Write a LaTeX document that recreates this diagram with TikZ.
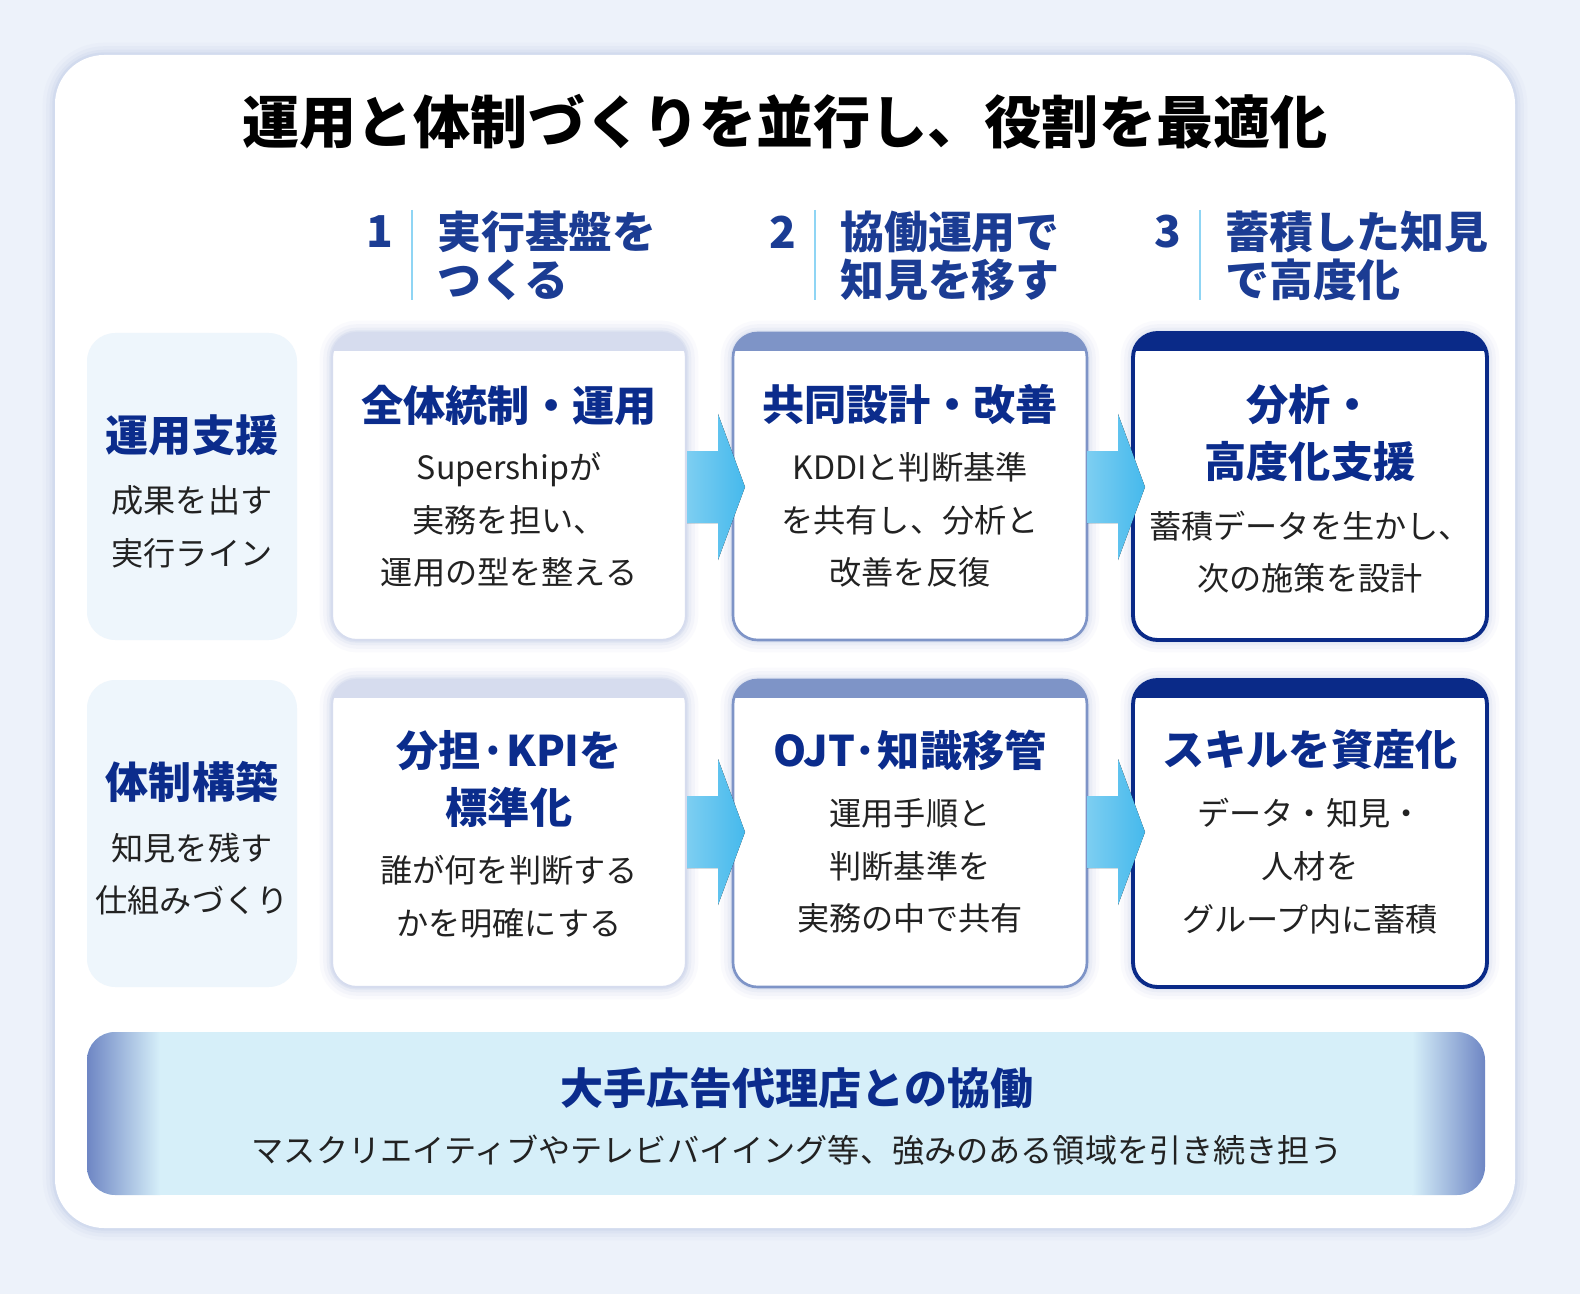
\documentclass[tikz,border=0pt]{standalone}
\usepackage{fontspec}
\setmainfont{Noto Sans CJK JP}
\definecolor{navy}{HTML}{0B2C8C}
\definecolor{hdblue}{HTML}{1B3C93}
\definecolor{bg}{HTML}{EDF2FA}
\definecolor{lab}{HTML}{EEF6FC}
\definecolor{s1}{HTML}{D6DCEE}
\definecolor{s2}{HTML}{7E94C7}
\definecolor{s3}{HTML}{0A2A88}
\definecolor{cy}{HTML}{45B9EC}
\definecolor{ban}{HTML}{D6EFF9}
\definecolor{banE}{HTML}{6E86C4}
\definecolor{txt}{HTML}{222222}
\definecolor{glow}{HTML}{9FB0DA}
\tikzset{
 px/.style={x=0.02cm,y=-0.02cm},
 title/.style={font=\bfseries\fontsize{32.5}{36}\selectfont,text=black},
 colhd/.style={font=\bfseries\fontsize{25}{28}\selectfont,text=hdblue,anchor=west,align=left},
 num/.style={font=\bfseries\fontsize{25}{28}\selectfont,text=hdblue},
 cardhd/.style={font=\bfseries\fontsize{24}{32.5}\selectfont,text=navy,align=center},
 body/.style={font=\fontsize{18.3}{30}\selectfont,text=txt,align=center},
 labhd/.style={font=\bfseries\fontsize{24.5}{28}\selectfont,text=navy},
}
\newcommand{\glowbox}[5]{% x1,y1,w,h,radius
 \foreach \w/\o in {14/0.05,10/0.07,6/0.1,3/0.15}{
  \draw[glow,line width=\w pt,opacity=\o,rounded corners=#5] (#1,#2) rectangle ++(#3,#4);}
}
\newcommand{\card}[3]{% x1,y1,col
 \glowbox{#1}{#2}{354}{307}{14pt}
 \fill[white,rounded corners=14pt] (#1,#2) rectangle ++(354,307);
 \begin{scope}
 \clip[rounded corners=14pt] (#1,#2) rectangle ++(354,307);
 \fill[#3] (#1,#2) rectangle ++(354,18);
 \end{scope}
}
\newcommand{\cardborder}[3]{\draw[#3,line width=#2,rounded corners=14pt] (#1) rectangle ++(354,307);}
\newcommand{\arr}[2]{\fill[left color=cy!70,right color=cy] (#1,#2-36) -- (#1+31,#2-36) -- (#1+31,#2-73) -- (#1+58,#2) -- (#1+31,#2+73) -- (#1+31,#2+36) -- (#1,#2+36) -- cycle;}
\begin{document}
\begin{tikzpicture}[px]
\useasboundingbox (0,0) rectangle (1580,1294);
\fill[bg] (0,0) rectangle (1580,1294);
\glowbox{55}{55}{1460}{1173}{28pt}
\fill[white,rounded corners=28pt] (55,55) rectangle (1515,1228);
\node[title] (t) at (785,122) {運用と体制づくりを並行し、役割を最適化};
% column headers
\foreach \n/\x/\a/\b in {1/380/実行基盤を/つくる,2/783/協働運用で/知見を移す,3/1168/蓄積した知見/で高度化}{
 \node[num] at (\x,232) {\n};
 \draw[cy!60,line width=1.2pt] (\x+32,210) -- (\x+32,300);
 \node[colhd] at (\x+51,232) {\a};
 \node[colhd] at (\x+51,280) {\b};
}
% row labels
\fill[lab,rounded corners=16pt] (87,333) rectangle (297,640);
\fill[lab,rounded corners=16pt] (87,680) rectangle (297,987);
\node[labhd] (r1) at (192,435) {運用支援};
\node[body] (r1b) at (192,527) {成果を出す\\実行ライン};
\node[labhd] (r2) at (192,782) {体制構築};
\node[body] (r2b) at (192,874) {知見を残す\\仕組みづくり};
% cards
\card{332}{333}{s1} \card{733}{333}{s2} \card{1133}{333}{s3}
\card{332}{680}{s1} \card{733}{680}{s2} \card{1133}{680}{s3}
\cardborder{332,333}{1.2pt}{s1} \cardborder{733,333}{1.5pt}{s2} \cardborder{1133,333}{2.2pt}{s3}
\cardborder{332,680}{1.2pt}{s1} \cardborder{733,680}{1.5pt}{s2} \cardborder{1133,680}{2.2pt}{s3}
\arr{687}{487} \arr{1087}{487} \arr{687}{832} \arr{1087}{832}
% row1 text
\node[cardhd] (a1) at (509,405) {全体統制・運用};
\node[body] (a1b) at (509,520) {Supershipが\\実務を担い、\\運用の型を整える};
\node[cardhd] (b1) at (910,405) {共同設計・改善};
\node[body] (b1b) at (910,520) {KDDIと判断基準\\を共有し、分析と\\改善を反復};
\node[cardhd] (c1) at (1310,433) {分析・\\高度化支援};
\node[body] (c1b) at (1310,552) {蓄積データを生かし、\\次の施策を設計};
% row2 text
\node[cardhd] (a2) at (509,779) {分担·KPIを\\標準化};
\node[body] (a2b) at (509,897) {誰が何を判断する\\かを明確にする};
\node[cardhd] (b2) at (910,750) {OJT·知識移管};
\node[body] (b2b) at (910,866) {運用手順と\\判断基準を\\実務の中で共有};
\node[cardhd] (c2) at (1310,750) {スキルを資産化};
\node[body] (c2b) at (1310,866) {データ・知見・\\人材を\\グループ内に蓄積};
% banner
\begin{scope}
\clip[rounded corners=16pt] (87,1032) rectangle (1485,1195);
\fill[ban] (87,1032) rectangle (1485,1195);
\shade[left color=banE,right color=ban] (87,1032) rectangle (160,1195);
\shade[left color=ban,right color=banE] (1412,1032) rectangle (1485,1195);
\end{scope}
\node[font=\bfseries\fontsize{24.5}{28}\selectfont,text=navy] (bt) at (797,1088) {大手広告代理店との協働};
\node[font=\fontsize{18.3}{22}\selectfont,text=txt] (bs) at (797,1150) {マスクリエイティブやテレビバイイング等、強みのある領域を引き続き担う};
\end{tikzpicture}
\end{document}
